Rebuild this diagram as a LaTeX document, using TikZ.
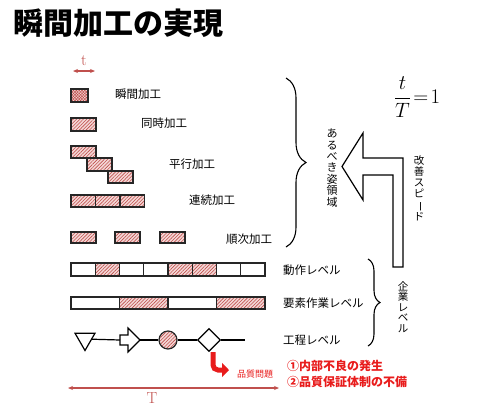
\documentclass[tikz,border=0pt]{standalone}
\usepackage{fontspec}
\usepackage{graphicx}
\usetikzlibrary{patterns.meta,decorations.pathreplacing,shapes.geometric,arrows.meta}
\newfontfamily\jpfont{Noto Sans CJK JP}
\definecolor{hatchred}{RGB}{192,80,77}
\definecolor{hatchbg}{RGB}{244,216,215}
\definecolor{alertred}{RGB}{232,28,28}
\begin{document}
\begin{tikzpicture}[x=1pt,y=-1pt,
    hatchbox/.style={draw=black!85, line width=1.2pt, preaction={fill=hatchbg},
      pattern={Lines[angle=45,distance=2.4pt,line width=.6pt]}, pattern color=hatchred},
    gridbox/.style={draw=black!85, line width=1.2pt, preaction={fill=hatchbg},
      pattern={Hatch[angle=45,distance=2pt,line width=.5pt]}, pattern color=hatchred},
    plainbox/.style={draw=black!85, line width=1.2pt, fill=white},
    lbl/.style={font=\jpfont\fontsize{11.5}{13}\selectfont, anchor=west, inner sep=0pt},
    vtext/.style={align=center, inner sep=0pt},
    curly/.style={decorate, line width=1.1pt},
    span/.style={hatchred, line width=1.3pt, {Stealth[length=5pt,width=4pt]}-{Stealth[length=5pt,width=4pt]}}]
    \useasboundingbox (0,0) rectangle (500,413);
    \node[anchor=west, inner sep=0pt, font=\jpfont\bfseries\fontsize{30}{32}\selectfont] (title) at (13,23) {瞬間加工の実現};
    % unit time t
    \coordinate (t0) at (73,71); \coordinate (t1) at (95,71);
    \draw[span] (t0) -- (t1);
    \node[hatchred, inner sep=0pt, font=\fontsize{16}{16}\selectfont] (tlbl) at (84,61) {t};
    % ways of processing
    \draw[gridbox] (71,89) rectangle (88,102);
    \node[lbl] (shunkan) at (115,94) {瞬間加工};
    \draw[hatchbox] (71,118) rectangle (96,131);
    \node[lbl] (doji) at (141,123) {同時加工};
    \draw[hatchbox] (71,146) rectangle (96,158);
    \draw[hatchbox] (87,158) rectangle (112,171);
    \draw[hatchbox] (108,171) rectangle (133,183);
    \node[lbl] (heiko) at (169,164) {平行加工};
    \foreach \x in {71,95.5,120} \draw[hatchbox] (\x,195) rectangle ++(24.5,12);
    \node[lbl] (renzoku) at (189,200) {連続加工};
    \foreach \x in {71,115,160} \draw[hatchbox] (\x,232) rectangle ++(25,11);
    \node[lbl] (junji) at (226,239) {順次加工};
    \draw[curly, decoration={brace, amplitude=20pt}] (286,78) -- (286,247);
    \node[vtext, font=\jpfont\fontsize{11}{11.4}\selectfont] (arubeki) at (332,168) {あ\\る\\べ\\き\\姿\\領\\域};
    % improvement arrow
    \draw[line width=1.2pt, fill=white] (342,166.5) -- (363,133) -- (363,158) -- (403,158) -- (403,267)
      -- (393,267) -- (393,175) -- (363,175) -- (363,200) -- cycle;
    \node[vtext, font=\jpfont\fontsize{10.5}{11.2}\selectfont] (kaizen) at (419,188) {改\\善\\ス\\ピ\\\rotatebox[origin=c]{-90}{ー}\\ド};
    \node[font=\fontsize{22}{26}\selectfont] (ratio) at (417,97) {$\displaystyle\frac{t}{T}\!=\!1$};
    % levels
    \foreach \i in {0,...,7} \draw[plainbox] ({71+24.25*\i},263) rectangle ++(24.25,13);
    \foreach \i in {1,4,5} \draw[hatchbox] ({71+24.25*\i},263) rectangle ++(24.25,13);
    \node[lbl] (dosa) at (283,270) {動作レベル};
    \foreach \i in {0,...,3} \draw[plainbox] ({71+48.5*\i},297) rectangle ++(48.5,12);
    \foreach \i in {1,3} \draw[hatchbox] ({71+48.5*\i},297) rectangle ++(48.5,12);
    \node[lbl] (yoso) at (283,303) {要素作業レベル};
    \node[draw, line width=1.2pt, regular polygon, regular polygon sides=3, shape border rotate=180,
      minimum size=23pt, inner sep=0pt] (wait) at (85,339) {};
    \coordinate (move-w) at (120,340); \coordinate (move-e) at (140,340);
    \draw[line width=1.2pt, line join=miter] (120,335) -- (128,335) -- (128,328) -- (move-e)
      -- (128,352) -- (128,345) -- (120,345) -- cycle;
    \node[hatchbox, circle, minimum size=18pt, inner sep=0pt] (work) at (168,340) {};
    \node[draw, line width=1.2pt, diamond, minimum size=23pt, inner sep=0pt] (check) at (209,340) {};
    \coordinate (pend) at (245,340);
    \draw[line width=1.2pt] (wait) -- (move-w);
    \draw[line width=1.2pt] (move-e) -- (work) -- (check) -- (pend);
    \node[lbl] (kotei) at (283,340) {工程レベル};
    \draw[curly, decoration={brace, amplitude=12pt}] (368,259) -- (368,346);
    \node[vtext, font=\jpfont\fontsize{10.5}{10.5}\selectfont] (kigyo) at (403,307) {企\\業\\レ\\ベ\\ル};
    % quality problems
    \coordinate (qs) at (213,352); \coordinate (qe) at (229,370);
    \draw[alertred, line width=5pt, rounded corners=5pt, -{Triangle[length=7pt,width=14pt]}] (qs) |- (qe);
    \node[anchor=west, alertred, inner sep=0pt, font=\jpfont\fontsize{9}{10}\selectfont] (hinshitsu) at (237,374) {品質問題};
    \node[anchor=west, alertred, inner sep=0pt, font=\jpfont\bfseries\fontsize{12}{13}\selectfont] (cause1) at (287,366) {①内部不良の発生};
    \node[anchor=west, alertred, inner sep=0pt, font=\jpfont\bfseries\fontsize{12}{13}\selectfont] (cause2) at (287,382) {②品質保証体制の不備};
    % total time T
    \coordinate (T0) at (68,388); \coordinate (T1) at (279,388);
    \draw[span] (T0) -- (T1);
    \node[hatchred, inner sep=0pt, font=\fontsize{16}{16}\selectfont] (Tlbl) at (152,398) {T};
\end{tikzpicture}
\end{document}
